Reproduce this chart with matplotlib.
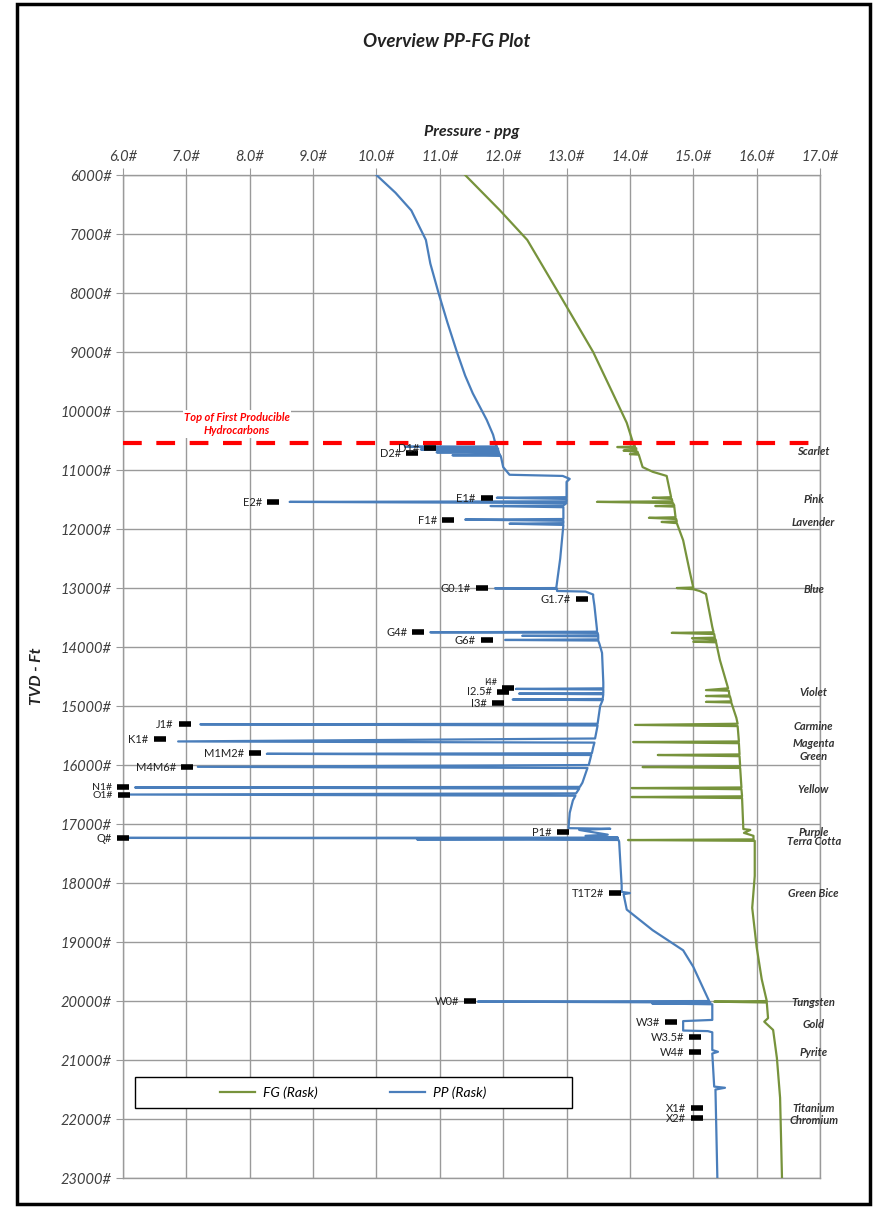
import numpy as np
import matplotlib
matplotlib.use("Agg")
from matplotlib import pyplot as plt
from matplotlib.patches import Rectangle

plt.rcParams['font.family'] = ['Lato', 'DejaVu Sans']

# pore pressure (blue), depth ft / ppg
pp_depth = [6000, 6300, 6600, 7100, 7500, 8000, 8500, 9000, 9400, 9700, 10150, 10400,
            10560, 10600, 10605, 10615, 10640, 10650, 10660, 10690, 10700, 10710, 10740, 10750, 10760,
            10800, 10950, 11080, 11100, 11150, 11200,
            11460, 11470, 11490, 11530, 11540, 11560, 11600, 11610, 11630,
            11830, 11840, 11860, 11900, 11910, 11930,
            12500, 12980, 13000, 13005, 13015, 13050, 13060, 13110, 13150,
            13300, 13700, 13740, 13750, 13760, 13800, 13810, 13820, 13870, 13880, 13890, 13950, 14100,
            14600, 14700, 14710, 14720, 14780, 14790, 14800, 14880, 14890, 14900,
            15000, 15300, 15310, 15330, 15550, 15600, 15620, 15700, 15800, 15810, 15830,
            16000, 16030, 16050, 16300, 16370, 16380, 16400, 16480, 16500, 16520, 16600, 16810,
            17060, 17070, 17080, 17100, 17180, 17200, 17230, 17235, 17245, 17260, 17270,
            17300, 18050, 18150, 18170, 18190, 18450, 18800, 19140, 19420, 19700, 19930,
            20000, 20010, 20025, 20040, 20055, 20320, 20340, 20390, 20500, 20510, 20530,
            20830, 20860, 20890, 21450, 21470, 21500, 22000, 23000]
pp_ppg = [10.0, 10.3, 10.55, 10.78, 10.85, 10.98, 11.12, 11.27, 11.4, 11.52, 11.74, 11.84,
          11.88, 11.9, 10.45, 11.9, 11.92, 10.7, 11.92, 11.93, 10.95, 11.93, 11.95, 11.2, 11.96,
          11.97, 12.0, 12.1, 12.94, 13.05, 13.0,
          13.0, 11.9, 13.0, 13.0, 8.63, 13.0, 12.95, 11.8, 12.95,
          12.95, 11.4, 12.95, 12.95, 12.1, 12.95,
          12.9, 12.84, 12.84, 11.87, 12.85, 12.85, 13.3, 13.42, 13.42,
          13.44, 13.48, 13.48, 10.85, 13.49, 13.5, 12.3, 13.5, 13.5, 12.03, 13.5, 13.52, 13.56,
          13.58, 13.58, 12.2, 13.58, 13.58, 12.25, 13.58, 13.57, 12.15, 13.57,
          13.53, 13.49, 7.22, 13.49, 13.45, 6.87, 13.44, 13.42, 13.4, 8.27, 13.39,
          13.35, 7.18, 13.33, 13.25, 13.21, 6.19, 13.2, 13.15, 6.08, 13.14, 13.1, 13.05,
          13.03, 13.03, 13.69, 13.2, 13.65, 13.3, 13.81, 6.03, 13.81, 10.64, 13.82,
          13.83, 13.87, 13.87, 14.0, 13.9, 13.95, 14.36, 14.84, 15.0, 15.12, 15.22,
          15.25, 11.6, 15.27, 14.35, 15.3, 15.3, 14.84, 14.84, 14.84, 15.23, 15.3,
          15.3, 15.39, 15.3, 15.33, 15.5, 15.35, 15.36, 15.38]

# fracture gradient (green)
fg_depth = [6000, 6600, 7100, 8100, 9000, 9700, 10200, 10540,
            10600, 10610, 10630, 10660, 10670, 10690, 10720, 10730, 10740,
            10950, 11030, 11100, 11460, 11470, 11490, 11530, 11540, 11560, 11600, 11610, 11620,
            11800, 11810, 11830, 11870, 11880, 11900, 12190, 12750, 12990, 13000, 13020, 13050, 13100,
            13660, 13750, 13760, 13780, 13840, 13850, 13870, 13900, 13910, 13920, 14220,
            14700, 14730, 14740, 14820, 14830, 14840, 14920, 14930, 14940,
            15200, 15300, 15320, 15340, 15600, 15610, 15630, 15820, 15830, 15850,
            16020, 16034, 16050, 16380, 16390, 16410, 16530, 16542, 16560,
            17085, 17100, 17150, 17200, 17260, 17271, 17285, 17880, 18420, 19085, 19630,
            20000, 20010, 20025, 20290, 20350, 20490, 20970, 21640, 23000]
fg_ppg = [11.4, 11.95, 12.38, 12.93, 13.42, 13.73, 13.95, 14.05,
          14.08, 13.8, 14.1, 14.1, 13.9, 14.12, 14.13, 14.0, 14.14,
          14.2, 14.36, 14.58, 14.65, 14.36, 14.66, 14.67, 13.48, 14.68, 14.7, 14.4, 14.7,
          14.72, 14.3, 14.73, 14.74, 14.5, 14.74, 14.84, 14.95, 15.0, 14.74, 15.0, 15.1, 15.2,
          15.3, 15.32, 14.66, 15.33, 15.34, 14.98, 15.35, 15.36, 15.0, 15.36, 15.42,
          15.55, 15.2, 15.56, 15.57, 15.2, 15.58, 15.6, 15.2, 15.6,
          15.68, 15.7, 14.08, 15.7, 15.72, 14.05, 15.72, 15.73, 14.44, 15.73,
          15.74, 14.2, 15.74, 15.76, 14.03, 15.76, 15.77, 14.03, 15.77,
          15.79, 15.9, 15.8, 15.95, 15.95, 13.97, 15.97, 15.97, 15.93, 16.0, 16.08,
          16.16, 15.33, 16.16, 16.18, 16.12, 16.26, 16.32, 16.37, 16.4]

# sand markers
sand_names = ['D1#', 'D2#', 'E1#', 'E2#', 'F1#', 'G0.1#', 'G1.7#', 'G4#', 'G6#',
              'I4#', 'I2.5#', 'I3#', 'J1#', 'K1#', 'M1M2#', 'M4M6#', 'N1#', 'O1#',
              'P1#', 'Q#', 'T1T2#', 'W0#', 'W3#', 'W3.5#', 'W4#', 'X1#', 'X2#']
sand_ppg = [10.85, 10.56, 11.74, 8.37, 11.13, 11.67, 13.24, 10.66, 11.74,
            12.08, 12.0, 11.92, 6.98, 6.58, 8.08, 7.01, 6.0, 6.02,
            12.94, 6.0, 13.77, 11.48, 14.65, 15.03, 15.03, 15.06, 15.06]
sand_depth = [10627, 10712, 11475, 11542, 11847, 13000, 13186, 13746, 13881,
              14690, 14760, 14949, 15305, 15559, 15797, 16034, 16373, 16508,
              17136, 17237, 18169, 20000, 20356, 20610, 20864, 21813, 21983]

# zone names on the right
zone_names = ['Scarlet', 'Pink', 'Lavender', 'Blue', 'Violet', 'Carmine', 'Magenta', 'Green',
              'Yellow', 'Purple', 'Terra Cotta', 'Green Bice', 'Tungsten', 'Gold', 'Pyrite',
              'Titanium', 'Chromium']
zone_depth = [10680, 11500, 11890, 13030, 14770, 15350, 15640, 15860,
              16410, 17150, 17300, 18180, 20030, 20390, 20870, 21820, 22030]

top_hc = 10542

fig = plt.figure(figsize=(8.73, 12.08), dpi=100)
ax = fig.add_axes([0.1409, 0.0248, 0.7984, 0.8303])

gc = '#9a9a9a'
ax.plot(fg_ppg, fg_depth, color='#77933c', lw=1.6, label='FG (Rask)', zorder=3)
ax.plot(pp_ppg, pp_depth, color='#4a7ebb', lw=1.6, label='PP (Rask)', zorder=3)
ax.axhline(top_hc, color='#ff0000', lw=3, dashes=(4.5, 3.5), zorder=4)

ax.plot(sand_ppg, sand_depth, ls='none', marker='_', ms=9, mew=4, color='black', zorder=5,
        clip_on=False)
for n, x, d in zip(sand_names, sand_ppg, sand_depth):
    fs = 7.5 if n in ('N1#', 'O1#') else 8
    dy = 0
    if n == 'I4#':
        fs, dy = 6.5, 4
    ax.annotate(n, (x, d), xytext=(-8, dy), textcoords='offset points', ha='right', va='center',
                fontsize=fs, color='#222222', annotation_clip=False, zorder=6)

for n, d in zip(zone_names, zone_depth):
    ax.text(16.9, d, n, ha='center', va='center', fontsize=8, style='italic',
            fontweight='bold', color='#333333', clip_on=False, zorder=6)

ax.text(7.8, 10220, 'Top of First Producible\nHydrocarbons', ha='center', va='center',
        fontsize=8, style='italic', fontweight='bold', color='#ff0000', linespacing=1.3,
        bbox=dict(facecolor='white', edgecolor='none', pad=1), zorder=4)

ax.set_xlim(6, 17)
ax.set_ylim(23000, 6000)
ax.set_xticks(np.arange(6, 17.5, 1))
ax.set_xticklabels(['%.1f#' % v for v in np.arange(6, 17.5, 1)])
ax.set_yticks(np.arange(6000, 23500, 1000))
ax.set_yticklabels(['%d#' % v for v in np.arange(6000, 23500, 1000)])
ax.xaxis.tick_top()
ax.xaxis.set_label_position('top')
ax.tick_params(length=5, color=gc, labelsize=10.5, labelcolor='#404040', pad=3)
for lb in ax.get_xticklabels() + ax.get_yticklabels():
    lb.set_style('italic')
ax.grid(True, color=gc, lw=1)
for s in ax.spines.values():
    s.set_color(gc)
    s.set_linewidth(1)

ax.set_xlabel('Pressure - ppg', fontsize=11.5, style='italic', fontweight='bold',
              color='#222222', labelpad=10)
ax.set_ylabel('TVD - Ft', fontsize=11.5, style='italic', fontweight='bold', color='#222222',
              labelpad=12)

# legend box drawn by hand, entries centred inside
lx, ly, lw_, lh = 0.0172, 0.0698, 0.627, 0.031
ax.add_patch(Rectangle((lx, ly), lw_, lh, transform=ax.transAxes, facecolor='white',
                       edgecolor='black', lw=1, zorder=6))
leg = ax.legend(loc='center', bbox_to_anchor=(lx + lw_ / 2, ly + lh / 2), ncol=2,
                frameon=False, prop={'style': 'italic', 'size': 10}, handlelength=2.5,
                columnspacing=5.2, handletextpad=0.6)
leg.set_zorder(7)

fig.text(0.512, 0.966, 'Overview PP-FG Plot', ha='center', va='center', fontsize=13.5,
         style='italic', fontweight='bold', color='#222222')

fig.patches.append(Rectangle((0.02, 0.003), 0.976, 0.994, transform=fig.transFigure,
                             fill=False, edgecolor='black', lw=2.5))

plt.savefig('out.png', dpi=100)
